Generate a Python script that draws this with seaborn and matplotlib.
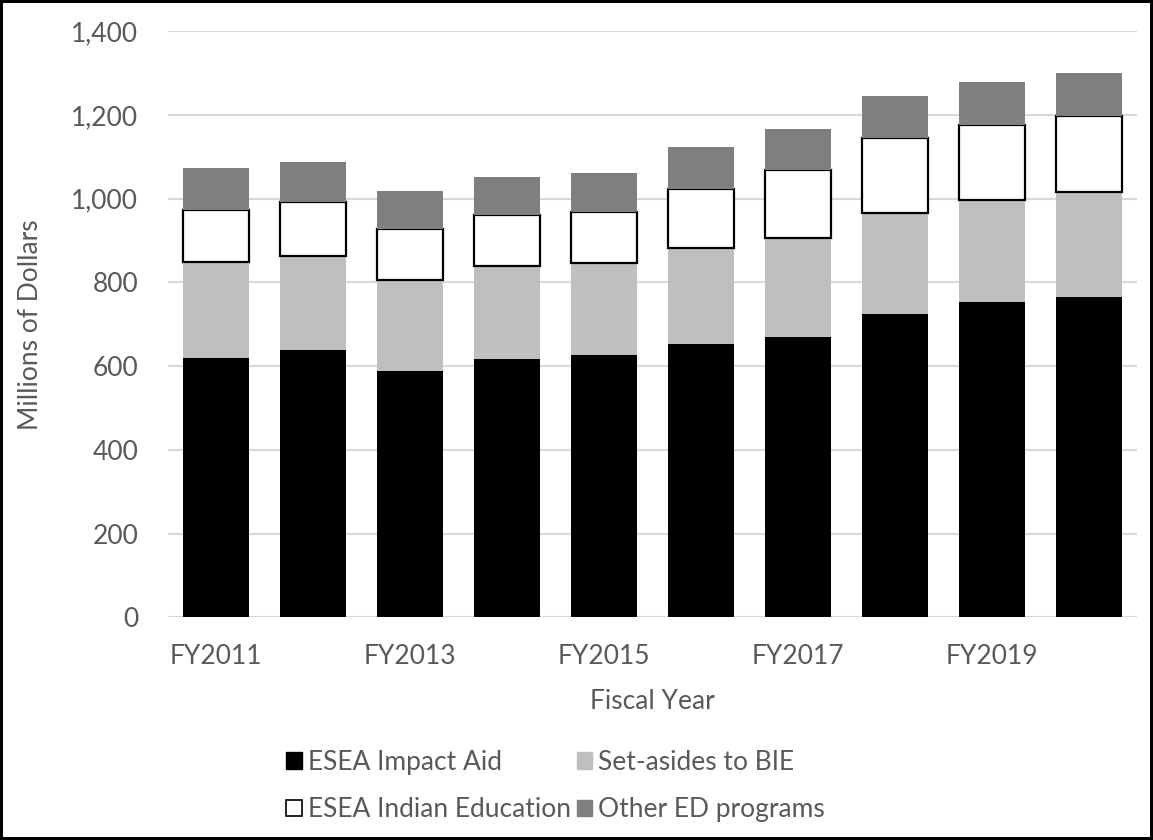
import numpy as np
import pandas as pd
import matplotlib.pyplot as plt
import seaborn as sns
from matplotlib.patches import Patch

# values, millions of dollars
years = ['FY2011', 'FY2012', 'FY2013', 'FY2014', 'FY2015',
         'FY2016', 'FY2017', 'FY2018', 'FY2019', 'FY2020']
impact_aid = [619, 638, 588, 617, 627, 652, 670, 724, 753, 765]
set_asides_bie = [230, 226, 218, 222, 219, 230, 235, 242, 245, 250]
indian_education = [124, 128, 122, 122, 123, 141, 164, 179, 179, 182]
other_ed = [100, 95, 90, 91, 92, 100, 97, 100, 102, 103]
yticks = [0, 200, 400, 600, 800, 1000, 1200, 1400]

df = pd.DataFrame({'year': years, 'ia': impact_aid, 'bie': set_asides_bie,
                   'ie': indian_education, 'other': other_ed})

sns.set_theme(style='white')
plt.rcParams['font.family'] = ['Lato', 'DejaVu Sans']
txt = '#595959'
fs = 19

fig = plt.figure(figsize=(11.53, 8.4), dpi=100)
ax = fig.add_axes([0.1453, 0.2652, 0.8412, 0.6975])

# stack the four series with bottom offsets
layers = [('ia', '#000000', 'none', 0),
          ('bie', '#bfbfbf', 'none', 0),
          ('ie', '#ffffff', '#000000', 1.6),
          ('other', '#7f7f7f', 'none', 0)]
bottom = np.zeros(len(years))
for col, fc, ec, lw in layers:
    sns.barplot(data=df, x='year', y=col, color=fc, saturation=1,
                bottom=bottom.copy(), width=0.68, errorbar=None,
                edgecolor=ec, linewidth=lw, ax=ax, zorder=3)
    bottom = bottom + df[col].to_numpy()

ax.set_ylim(0, 1400)
ax.set_xlim(-0.5, len(years) - 0.5)
ax.set_yticks(yticks)
ax.set_yticklabels([f'{v:,}' for v in yticks])
ax.set_xticks(range(len(years)))
ax.set_xticklabels([y if i % 2 == 0 else '' for i, y in enumerate(years)])
ax.yaxis.grid(True, color='#d9d9d9', linewidth=1.5, zorder=0)
ax.set_axisbelow(True)
for s in ax.spines.values():
    s.set_visible(False)
ax.tick_params(axis='both', length=0, labelsize=fs, colors=txt)
ax.tick_params(axis='x', pad=19)
ax.tick_params(axis='y', pad=21)
ax.set_xlabel('Fiscal Year', fontsize=fs, color=txt, labelpad=15)
ax.set_ylabel('Millions of Dollars', fontsize=fs, color=txt, labelpad=20)

# legend, two rows of two
handles = [Patch(facecolor='#000000', edgecolor='#000000'),
           Patch(facecolor='#ffffff', edgecolor='#000000', linewidth=1.2),
           Patch(facecolor='#bfbfbf', edgecolor='#bfbfbf'),
           Patch(facecolor='#7f7f7f', edgecolor='#7f7f7f')]
labels = ['ESEA Impact Aid', 'ESEA Indian Education',
          'Set-asides to BIE', 'Other ED programs']
fig.legend(handles, labels, ncol=2, loc='upper center',
           bbox_to_anchor=(0.482, 0.1355), frameon=False,
           fontsize=fs, labelcolor=txt, handlelength=0.58, handleheight=0.58,
           handletextpad=0.25, columnspacing=0.2, labelspacing=0.85,
           bbox_transform=fig.transFigure)

fig.patch.set_edgecolor('black')
fig.patch.set_linewidth(3)

fig.savefig('out.png', dpi=100, edgecolor=fig.get_edgecolor())
